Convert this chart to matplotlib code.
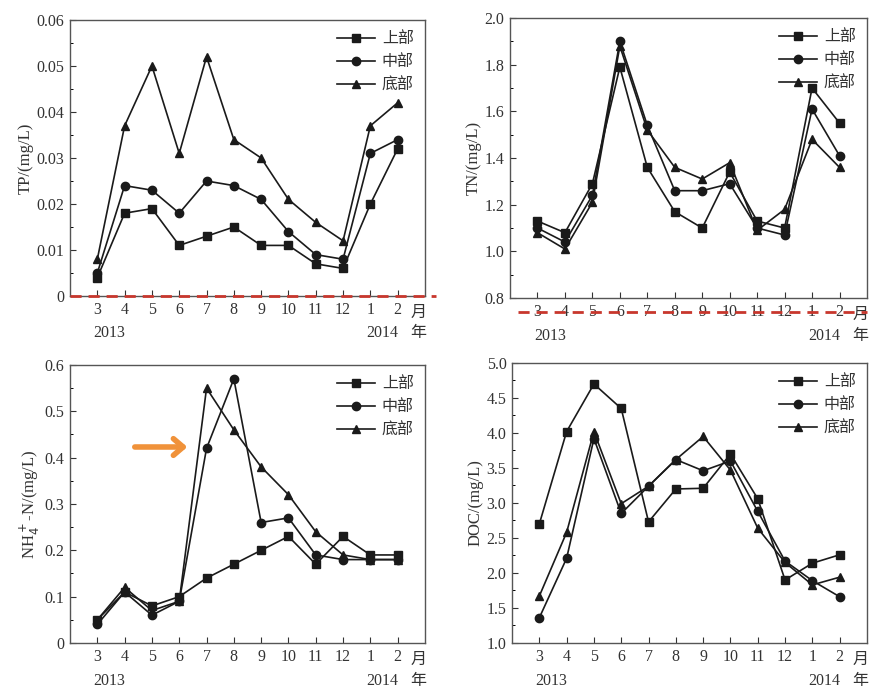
import numpy as np
import matplotlib.pyplot as plt
from matplotlib.ticker import AutoMinorLocator, FuncFormatter

plt.rcParams['font.family'] = ['Liberation Serif', 'Noto Sans CJK SC']
plt.rcParams['axes.unicode_minus'] = False

months = ["3", "4", "5", "6", "7", "8", "9", "10", "11", "12", "1", "2"]
labels = ["上部", "中部", "底部"]

tp_up = [0.004, 0.018, 0.019, 0.011, 0.013, 0.015, 0.011, 0.011, 0.007, 0.006, 0.020, 0.032]
tp_mid = [0.005, 0.024, 0.023, 0.018, 0.025, 0.024, 0.021, 0.014, 0.009, 0.008, 0.031, 0.034]
tp_bot = [0.008, 0.037, 0.050, 0.031, 0.052, 0.034, 0.030, 0.021, 0.016, 0.012, 0.037, 0.042]

tn_up = [1.13, 1.08, 1.29, 1.79, 1.36, 1.17, 1.10, 1.34, 1.13, 1.10, 1.70, 1.55]
tn_mid = [1.10, 1.04, 1.24, 1.90, 1.54, 1.26, 1.26, 1.29, 1.10, 1.07, 1.61, 1.41]
tn_bot = [1.08, 1.01, 1.21, 1.88, 1.52, 1.36, 1.31, 1.38, 1.09, 1.18, 1.48, 1.36]

nh_up = [0.05, 0.11, 0.08, 0.10, 0.14, 0.17, 0.20, 0.23, 0.17, 0.23, 0.19, 0.19]
nh_mid = [0.04, 0.11, 0.06, 0.09, 0.42, 0.57, 0.26, 0.27, 0.19, 0.18, 0.18, 0.18]
nh_bot = [0.05, 0.12, 0.07, 0.09, 0.55, 0.46, 0.38, 0.32, 0.24, 0.19, 0.18, 0.18]

doc_up = [2.70, 4.02, 4.70, 4.35, 2.73, 3.20, 3.21, 3.70, 3.06, 1.90, 2.14, 2.26]
doc_mid = [1.36, 2.21, 3.92, 2.85, 3.24, 3.62, 3.46, 3.60, 2.88, 2.17, 1.89, 1.66]
doc_bot = [1.67, 2.58, 4.02, 2.99, 3.24, 3.62, 3.95, 3.47, 2.64, 2.15, 1.83, 1.94]

x = np.arange(len(months))
markers = ['s', 'o', '^']
ink = '#1a1a1a'
txt = '#333333'


def panel(rect, series, ylim, ystep, ylabel, decimals, zero_as_int):
    ax = fig.add_axes(rect)
    for s, m, lab in zip(series, markers, labels):
        ax.plot(x, s, color=ink, lw=1.2, marker=m, ms=6, label=lab)
    ax.set_xlim(-1, 12)
    ax.set_ylim(*ylim)
    ax.set_xticks(x)
    ax.set_xticklabels(months)
    ax.set_yticks(np.arange(ylim[0], ylim[1] + ystep / 2, ystep))

    def f(v, pos):
        if zero_as_int and abs(v) < 1e-9:
            return "0"
        return f"{v:.{decimals}f}"
    ax.yaxis.set_major_formatter(FuncFormatter(f))
    ax.yaxis.set_minor_locator(AutoMinorLocator(2))
    ax.tick_params(direction='in', length=4, width=0.8, labelsize=11.5,
                   colors=txt, pad=4)
    ax.tick_params(axis='y', which='minor', direction='in', length=2.5, width=0.7)
    for sp in ax.spines.values():
        sp.set_color('#555555')
        sp.set_linewidth(1.0)
    ax.set_ylabel(ylabel, fontsize=12, color=txt, labelpad=2)
    tr = ax.get_xaxis_transform()
    ax.text(11.75, -0.062, "月", transform=tr, ha='center', va='center',
            fontsize=11.5, color=txt)
    ax.text(0.45, -0.135, "2013", transform=tr, ha='center', va='center',
            fontsize=11.5, color=txt)
    ax.text(10.45, -0.135, "2014", transform=tr, ha='center', va='center',
            fontsize=11.5, color=txt)
    ax.text(11.75, -0.135, "年", transform=tr, ha='center', va='center',
            fontsize=11.5, color=txt)
    leg = ax.legend(loc='upper right', frameon=False, fontsize=11.5,
                    handlelength=2.4, handletextpad=0.4, labelspacing=0.45,
                    borderaxespad=0.3)
    for t in leg.get_texts():
        t.set_color(txt)
    return ax


fig = plt.figure(figsize=(8.73, 6.91), dpi=100)

ax1 = panel([0.0802, 0.5716, 0.4066, 0.3995], [tp_up, tp_mid, tp_bot],
            (0, 0.06), 0.01, "TP/(mg/L)", 2, True)
ax2 = panel([0.5842, 0.5687, 0.4089, 0.4052], [tn_up, tn_mid, tn_bot],
            (0.8, 2.0), 0.2, "TN/(mg/L)", 1, False)
ax3 = panel([0.0802, 0.0695, 0.4066, 0.4023], [nh_up, nh_mid, nh_bot],
            (0, 0.6), 0.1, r"NH$_4^+$-N/(mg/L)", 1, True)
ax4 = panel([0.5865, 0.0695, 0.4066, 0.4052], [doc_up, doc_mid, doc_bot],
            (1.0, 5.0), 0.5, "DOC/(mg/L)", 1, False)

red = '#c8372d'
ax1.plot([0, 1.03], [0, 0], transform=ax1.transAxes, color=red, lw=2,
         ls=(0, (4, 2.5)), clip_on=False, zorder=5)
ax2.plot([0.022, 1.0], [-0.05, -0.05], transform=ax2.transAxes, color=red, lw=2,
         ls=(0, (4, 2.5)), clip_on=False, zorder=5)

ax3.annotate("", xy=(3.4, 0.423), xytext=(1.27, 0.423),
             arrowprops=dict(arrowstyle='->, head_length=0.7, head_width=0.6',
                             color='#f0923a', lw=4))

fig.savefig("out.png", dpi=100)
